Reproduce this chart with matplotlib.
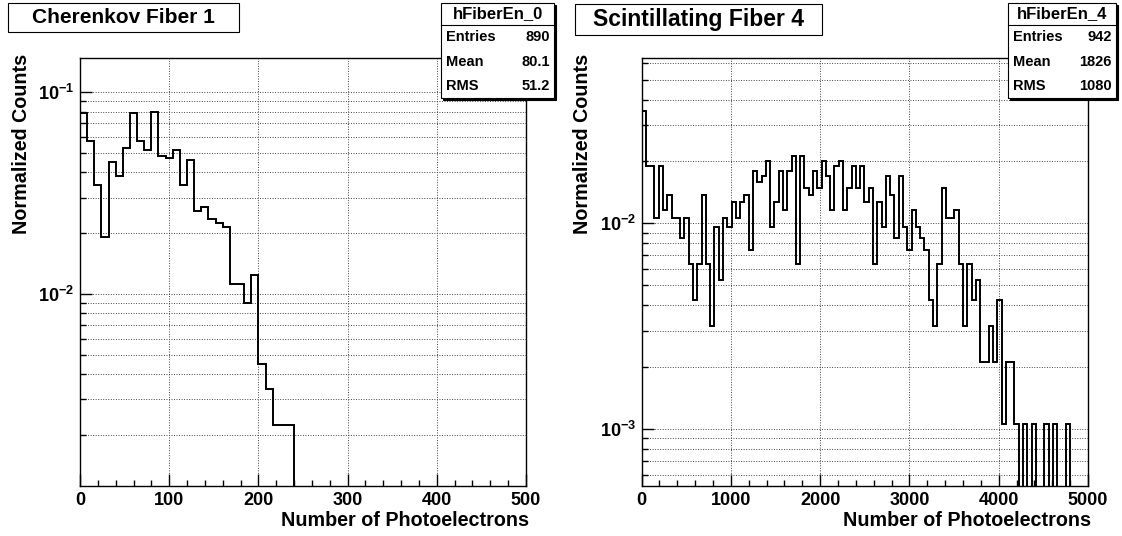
import numpy as np
import matplotlib
matplotlib.use("Agg")
import matplotlib.pyplot as plt
from matplotlib.patches import Rectangle
from matplotlib.ticker import FixedLocator, NullFormatter, LogLocator, MultipleLocator

# ---------------- data ----------------
left_title = "Cherenkov Fiber 1"
right_title = "Scintillating Fiber 4"
left_name = "hFiberEn_0"
right_name = "hFiberEn_4"
left_stats = [("Entries", "890"), ("Mean", "80.1"), ("RMS", "51.2")]
right_stats = [("Entries", "942"), ("Mean", "1826"), ("RMS", "1080")]

left_entries = 890
left_bin_width = 8
left_counts = [70, 51, 31, 17, 40, 34, 47, 70, 51, 46,
               71, 43, 42, 46, 31, 41, 23, 24, 21, 20,
               19, 10, 10, 8, 11, 4, 3, 2, 2, 2]

right_entries = 942
right_bin_width = 48
right_counts = [33, 18, 18, 10, 18, 11, 13, 10, 10, 8,
                10, 6, 4, 6, 13, 6, 3, 9, 5, 10,
                9, 12, 10, 12, 13, 7, 17, 15, 16, 19,
                9, 12, 17, 11, 17, 20, 6, 20, 14, 13,
                17, 14, 19, 16, 11, 18, 19, 11, 14, 18,
                14, 18, 12, 14, 6, 12, 9, 16, 13, 8,
                16, 9, 7, 11, 9, 8, 7, 4, 3, 6,
                14, 10, 10, 11, 6, 3, 6, 4, 5, 2,
                2, 3, 2, 4, 1, 2, 2, 1, 0, 1,
                0, 1, 0, 0, 1, 0, 1, 0, 0, 1]

left_xticks = [0, 100, 200, 300, 400, 500]
right_xticks = [0, 1000, 2000, 3000, 4000, 5000]
left_yticks = [1e-2, 1e-1]
left_ytick_labels = [r"$10^{-2}$", r"$10^{-1}$"]
right_yticks = [1e-3, 1e-2]
right_ytick_labels = [r"$10^{-3}$", r"$10^{-2}$"]
xlabel = "Number of Photoelectrons"
ylabel = "Normalized Counts"

# ---------------- style ----------------
plt.rcParams["font.family"] = ["Liberation Sans", "DejaVu Sans"]
plt.rcParams["font.weight"] = "bold"
plt.rcParams["mathtext.fontset"] = "custom"
plt.rcParams["mathtext.rm"] = "Liberation Sans:bold"
plt.rcParams["mathtext.it"] = "Liberation Sans:bold"
plt.rcParams["mathtext.bf"] = "Liberation Sans:bold"
plt.rcParams["mathtext.default"] = "rm"

W, H = 1122, 536
fig = plt.figure(figsize=(W / 100, H / 100), dpi=100)


def rect(x0, y0, x1, y1):
    return [x0 / W, 1 - y1 / H, (x1 - x0) / W, (y1 - y0) / H]


def fbox(x0, y0, x1, y1, shadow=False):
    if shadow:
        fig.add_artist(Rectangle((x0 / W + 2.0 / W, 1 - y1 / H - 2.0 / H), (x1 - x0) / W, (y1 - y0) / H,
                                 transform=fig.transFigure, facecolor="black", edgecolor="black", lw=0.8))
    fig.add_artist(Rectangle((x0 / W, 1 - y1 / H), (x1 - x0) / W, (y1 - y0) / H,
                             transform=fig.transFigure, facecolor="white", edgecolor="black", lw=0.8))


def panel(ax_px, counts, entries, bw, xlim, ylim, xticks, xminor, yticks, ylabels,
          title, title_box, title_size, name, stats, stat_box, ylabel_x):
    ax = fig.add_axes(rect(*ax_px))
    counts = np.asarray(counts, dtype=float)
    vals = counts / entries
    vals = np.where(vals > 0, vals, 1e-9)
    edges = np.arange(len(counts) + 1) * bw
    ax.set_yscale("log")
    ax.stairs(vals, edges, baseline=1e-9, color="black", lw=1.4, zorder=3)
    ax.set_xlim(*xlim)
    ax.set_ylim(*ylim)
    ax.xaxis.set_major_locator(FixedLocator(xticks))
    ax.set_xticklabels([str(t) for t in xticks])
    ax.xaxis.set_minor_locator(MultipleLocator(xminor))
    ax.yaxis.set_major_locator(FixedLocator(yticks))
    ax.set_yticklabels(ylabels)
    ax.yaxis.set_minor_locator(LogLocator(base=10, subs=np.arange(2, 10)))
    ax.yaxis.set_minor_formatter(NullFormatter())
    ax.tick_params(which="both", direction="in", top=False, right=False, width=1.0, colors="black")
    ax.tick_params(which="major", length=8.6, labelsize=13, pad=5)
    ax.tick_params(which="minor", length=4.3)
    ax.tick_params(axis="y", which="major", pad=4)
    for lab in ax.get_xticklabels() + ax.get_yticklabels():
        lab.set_fontweight("bold")
    grid_kw = dict(color="#444444", linestyle=(0, (1, 1.6)), linewidth=0.7)
    ax.grid(True, which="major", axis="x", **grid_kw)
    ax.grid(True, which="both", axis="y", **grid_kw)
    ax.set_axisbelow(True)
    for sp in ax.spines.values():
        sp.set_linewidth(1.0)
        sp.set_color("black")

    # axis titles
    fig.text((ax_px[2] + 3) / W, 1 - 521 / H, xlabel, ha="right", va="center",
             fontsize=14.2, fontweight="bold")
    fig.text(ylabel_x / W, 1 - (ax_px[1] - 4) / H, ylabel, ha="center", va="top",
             rotation=90, fontsize=14.2, fontweight="bold")

    # title box
    tx0, ty0, tx1, ty1 = title_box
    fbox(tx0, ty0, tx1, ty1)
    fig.text((tx0 + tx1) / 2 / W, 1 - (ty0 + ty1) / 2 / H, title, ha="center", va="center",
             fontsize=title_size, fontweight="bold")

    # stats box
    sx0, sy0, sx1, sy1 = stat_box
    fbox(sx0, sy0, sx1, sy1, shadow=True)
    sep = sy0 + 22
    fig.add_artist(plt.Line2D([sx0 / W, sx1 / W], [1 - sep / H, 1 - sep / H],
                              transform=fig.transFigure, color="black", lw=0.8))
    fig.text((sx0 + sx1) / 2 / W, 1 - (sy0 + sep) / 2 / H, name, ha="center", va="center",
             fontsize=12, fontweight="bold")
    row_h = (sy1 - sep) / len(stats)
    for i, (k, v) in enumerate(stats):
        yc = sep + row_h * (i + 0.5)
        fig.text((sx0 + 5) / W, 1 - yc / H, k, ha="left", va="center", fontsize=10.5, fontweight="bold")
        fig.text((sx1 - 4) / W, 1 - yc / H, v, ha="right", va="center", fontsize=10.5, fontweight="bold")
    return ax


panel((80, 58, 526, 485.5), left_counts, left_entries, left_bin_width, (0, 500),
      (1.124e-3, 0.1476), left_xticks, 20, left_yticks, left_ytick_labels,
      left_title, (8, 3.5, 239, 31.5), 15, left_name, left_stats, (441, 3, 554, 98), 22)

panel((641.5, 58, 1088, 485.5), right_counts, right_entries, right_bin_width, (0, 5000),
      (5.31e-4, 0.0637), right_xticks, 200, right_yticks, right_ytick_labels,
      right_title, (575, 4, 822, 35), 16.5, right_name, right_stats, (1008, 3, 1116, 98), 583)

fig.savefig("out.png", dpi=100)
